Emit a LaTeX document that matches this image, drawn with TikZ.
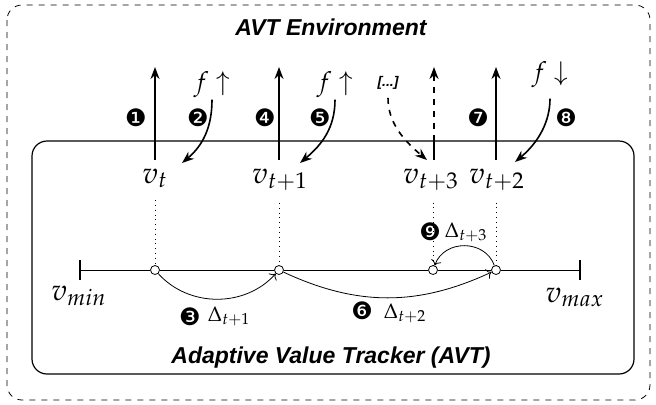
\documentclass[tikz,border=0pt]{standalone}
\usepackage{mathpazo}
\usepackage[no-math]{fontspec}
\newfontfamily\hvfont{Liberation Sans}
\newfontfamily\dingfont{DejaVu Sans}
\usetikzlibrary{arrows.meta,positioning}

\begin{document}
\begin{tikzpicture}[
  x=0.5pt, y=-0.5pt,
  arr/.style={thick, -{Stealth[length=6pt,width=4.5pt]}},
  vlabel/.style={font=\fontsize{15}{18}\selectfont, anchor=base, inner sep=0pt},
  flabel/.style={font=\fontsize{13}{15}\selectfont, anchor=base, inner sep=1pt},
  dlabel/.style={font=\fontsize{10.5}{12}\selectfont, anchor=base, inner sep=1pt},
  num/.style={font=\dingfont\fontsize{12}{13}\selectfont, inner sep=0pt},
  title/.style={font=\hvfont\bfseries\itshape\fontsize{11.5}{13}\selectfont, anchor=base},
  dot/.style={circle, draw, fill=white, inner sep=0pt, minimum size=4.5pt}
]
\useasboundingbox (0,0) rectangle (656,404);
\draw[dashed, rounded corners=7.5pt] (7,5) rectangle (650,400);
\draw[semithick, rounded corners=7.5pt] (32,141) rectangle (634,374);

\node[title] (env) at (331,35) {AVT Environment};
\node[title] (tracker) at (331,363) {Adaptive Value Tracker (AVT)};

% values sent out
\node[vlabel] (vt) at (155,183) {$v_t$};
\node[vlabel] (vt1) at (280,183) {$v_{t+1}$};
\node[vlabel] (vt3) at (431,183) {$v_{t+3}$};
\node[vlabel] (vt2) at (497,183) {$v_{t+2}$};

\coordinate (up1) at (155,67);
\coordinate (up2) at (279,67);
\coordinate (up3) at (434,67);
\coordinate (up4) at (496,67);
\coordinate (edge3) at (434,141);

\draw[arr] ([yshift=4pt]vt.north -| up1) -- (up1);
\draw[arr] ([yshift=4pt]vt1.north -| up2) -- (up2);
\draw[thick] ([yshift=4pt]vt3.north -| up3) -- (edge3);
\draw[arr, dashed] (edge3) -- (up3);
\draw[arr] ([yshift=4pt]vt2.north -| up4) -- (up4);

% feedback
\node[flabel] (f1) at (212,90) {$f\uparrow$};
\node[flabel] (f2) at (335,90) {$f\uparrow$};
\node[flabel] (f3) at (550,80) {$f\downarrow$};
\node[font=\hvfont\bfseries\itshape\fontsize{7}{8}\selectfont, inner sep=1pt] (more) at (388,83) {[...]};

\coordinate (in1) at (182,163);
\coordinate (in2) at (300,163);
\coordinate (in3) at (515,162);
\coordinate (in4) at (427,160);

\draw[arr] (f1.south) to[out=-90, in=40] (in1);
\draw[arr] (f2.south) to[out=-90, in=40] (in2);
\draw[arr, shorten <=4.5pt] (f3.south) to[out=-90, in=40] (in3);
\draw[arr, dashed, shorten <=3pt] (more.south) to[out=-90, in=140] (in4);

\node[num] (n1) at (136,118) {❶};
\node[num] (n2) at (198,118) {❷};
\node[num] (n4) at (265,118) {❹};
\node[num] (n5) at (320,118) {❺};
\node[num] (n7) at (478,118) {❼};
\node[num] (n8) at (566,118) {❽};

% value range
\coordinate (lo) at (80,270);
\coordinate (hi) at (580,270);
\node[dot] (p1) at (155,270) {};
\node[dot] (p2) at (279,270) {};
\node[dot] (p3) at (433,270) {};
\node[dot] (p4) at (496,270) {};

\draw (lo) -- (p1) -- (p2) -- (p3) -- (p4) -- (hi);
\draw[very thick] ([yshift=5pt]lo) -- ([yshift=-5pt]lo);
\draw[very thick] ([yshift=5pt]hi) -- ([yshift=-5pt]hi);

\draw[dotted] ([yshift=-6pt]vt.south -| p1) -- (p1);
\draw[dotted] ([yshift=-6pt]vt1.south -| p2) -- (p2);
\draw[dotted] ([yshift=-6pt]vt3.south -| p3) -- (p3);
\draw[dotted] ([yshift=-6pt]vt2.south -| p4) -- (p4);

\node[vlabel] (vmin) at (79,300) {$v_{min}$};
\node[vlabel] (vmax) at (575,302) {$v_{max}$};

\draw[->] (p1) to[bend right=48] (p2);
\draw[->] (p2) to[bend right=25] (p4);
\draw[->] (p4) to[bend right=70, looseness=1.2] (p3);

\node[dlabel] (d1) at (229,321) {$\Delta_{t+1}$};
\node[dlabel] (d2) at (405,318) {$\Delta_{t+2}$};
\node[dlabel] (d3) at (466,237) {$\Delta_{t+3}$};
\node[num] (n3) at (190,317) {❸};
\node[num] (n6) at (362,311) {❻};
\node[num] (n9) at (430,232) {❾};
\end{tikzpicture}
\end{document}
